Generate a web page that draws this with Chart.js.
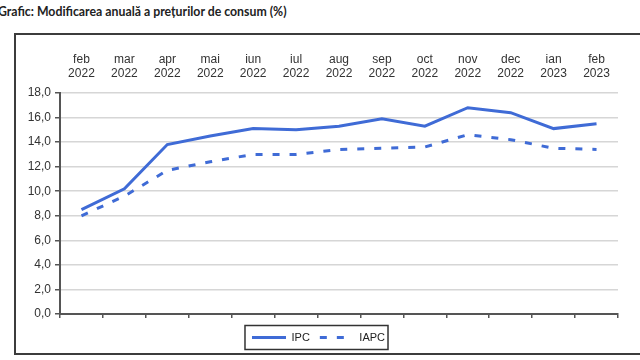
<!DOCTYPE html>
<html>
<head>
<meta charset="utf-8">
<script src="https://cdn.jsdelivr.net/npm/chart.js@4/dist/chart.umd.min.js"></script>
<style>
  html, body { margin: 0; padding: 0; background: #fff; }
  #wrap { position: relative; width: 640px; height: 360px; overflow: hidden; }
  #title { position: absolute; left: -2px; top: 4px; font-family: Lato, "Open Sans", sans-serif; font-weight: bold; font-size: 12.3px; color: #222; white-space: nowrap; }
  #frame { position: absolute; left: 14px; top: 33px; width: 700px; height: 318px; border: 2px solid #3c3c3c; box-sizing: content-box; }
  #c { position: absolute; left: 0; top: 0; }
</style>
</head>
<body>
<div id="wrap">
  <div id="title">Grafic: Modificarea anuală a prețurilor de consum (%)</div>
  <div id="frame"></div>
  <canvas id="c" width="640" height="360"></canvas>
</div>
<script>
const months = ["feb", "mar", "apr", "mai", "iun", "iul", "aug", "sep", "oct", "nov", "dec", "ian", "feb"];
const years = ["2022", "2022", "2022", "2022", "2022", "2022", "2022", "2022", "2022", "2022", "2022", "2023", "2023"];
const ipc = [8.5, 10.2, 13.8, 14.5, 15.1, 15.0, 15.3, 15.9, 15.3, 16.8, 16.4, 15.1, 15.5];
const iapc = [8.0, 9.6, 11.7, 12.4, 13.0, 13.0, 13.4, 13.5, 13.6, 14.6, 14.2, 13.5, 13.4];
const yMin = 0, yMax = 18, yStep = 2;

const labels = months.map((m, i) => [m, years[i]]);
const blue = "#3f6bd6";

const legendBox = {
  id: "legendBox",
  afterDraw(chart) {
    const lg = chart.legend;
    if (!lg || !lg.legendHitBoxes || !lg.legendHitBoxes.length) return;
    const hb = lg.legendHitBoxes;
    const l = Math.min(...hb.map(b => b.left)) - 7;
    const r = Math.max(...hb.map(b => b.left + b.width)) + 3;
    const cy = hb[0].top + hb[0].height / 2;
    const ctx = chart.ctx;
    ctx.save();
    ctx.strokeStyle = "#333";
    ctx.lineWidth = 1.5;
    ctx.strokeRect(l, cy - 12, r - l, 24);
    ctx.restore();
  }
};

new Chart(document.getElementById("c"), {
  type: "line",
  data: {
    labels: labels,
    datasets: [
      { label: "IPC", data: ipc, borderColor: blue, backgroundColor: blue, borderWidth: 3, pointRadius: 0, pointStyle: "line", tension: 0, xAxisID: "x" },
      { label: "IAPC", data: iapc, borderColor: blue, backgroundColor: blue, borderWidth: 3, borderDash: [7, 10], pointRadius: 0, pointStyle: "line", tension: 0, xAxisID: "x" }
    ]
  },
  plugins: [legendBox],
  options: {
    responsive: false,
    animation: false,
    layout: { padding: { left: 19, right: 22, top: 40, bottom: 7 } },
    plugins: {
      title: { display: false },
      tooltip: { enabled: false },
      legend: {
        position: "bottom",
        labels: {
          usePointStyle: true,
          pointStyleWidth: 34,
          boxWidth: 34,
          boxHeight: 11,
          padding: 10,
          color: "#222",
          font: { family: "'Liberation Sans', Arial, sans-serif", size: 11 },
          generateLabels: (chart) => chart.data.datasets.map((ds, i) => ({
            text: ds.label,
            fillStyle: ds.backgroundColor,
            strokeStyle: ds.borderColor,
            lineWidth: ds.borderWidth,
            lineDash: ds.borderDash || [],
            pointStyle: "line",
            hidden: false,
            datasetIndex: i,
            fontColor: "#222"
          }))
        }
      }
    },
    scales: {
      x: {
        type: "category",
        position: "top",
        offset: true,
        grid: { display: false, drawTicks: false },
        border: { display: false },
        ticks: { color: "#333", padding: 12, maxRotation: 0, autoSkip: false, font: { family: "'Liberation Sans', Arial, sans-serif", size: 12 } },
        afterFit: (s) => { s.height = 53; }
      },
      x2: {
        type: "category",
        position: "bottom",
        offset: true,
        grid: { offset: true, drawOnChartArea: false, drawTicks: true, tickLength: 4, color: "#555", lineWidth: 1.5 },
        border: { display: true, color: "#555", width: 2 },
        ticks: { display: false },
        afterFit: (s) => { s.height = 8; }
      },
      y: {
        min: yMin,
        max: yMax,
        ticks: {
          stepSize: yStep,
          color: "#333",
          padding: 4,
          font: { family: "'Liberation Sans', Arial, sans-serif", size: 12 },
          callback: (v) => Number(v).toFixed(1).replace(".", ",")
        },
        grid: { color: "#d6d6d6", lineWidth: 1.5, tickLength: 5, tickColor: "#555", tickWidth: 1.5 },
        border: { display: true, color: "#555", width: 2 },
        afterFit: (s) => { s.width = 41; }
      }
    }
  }
});
</script>
</body>
</html>
